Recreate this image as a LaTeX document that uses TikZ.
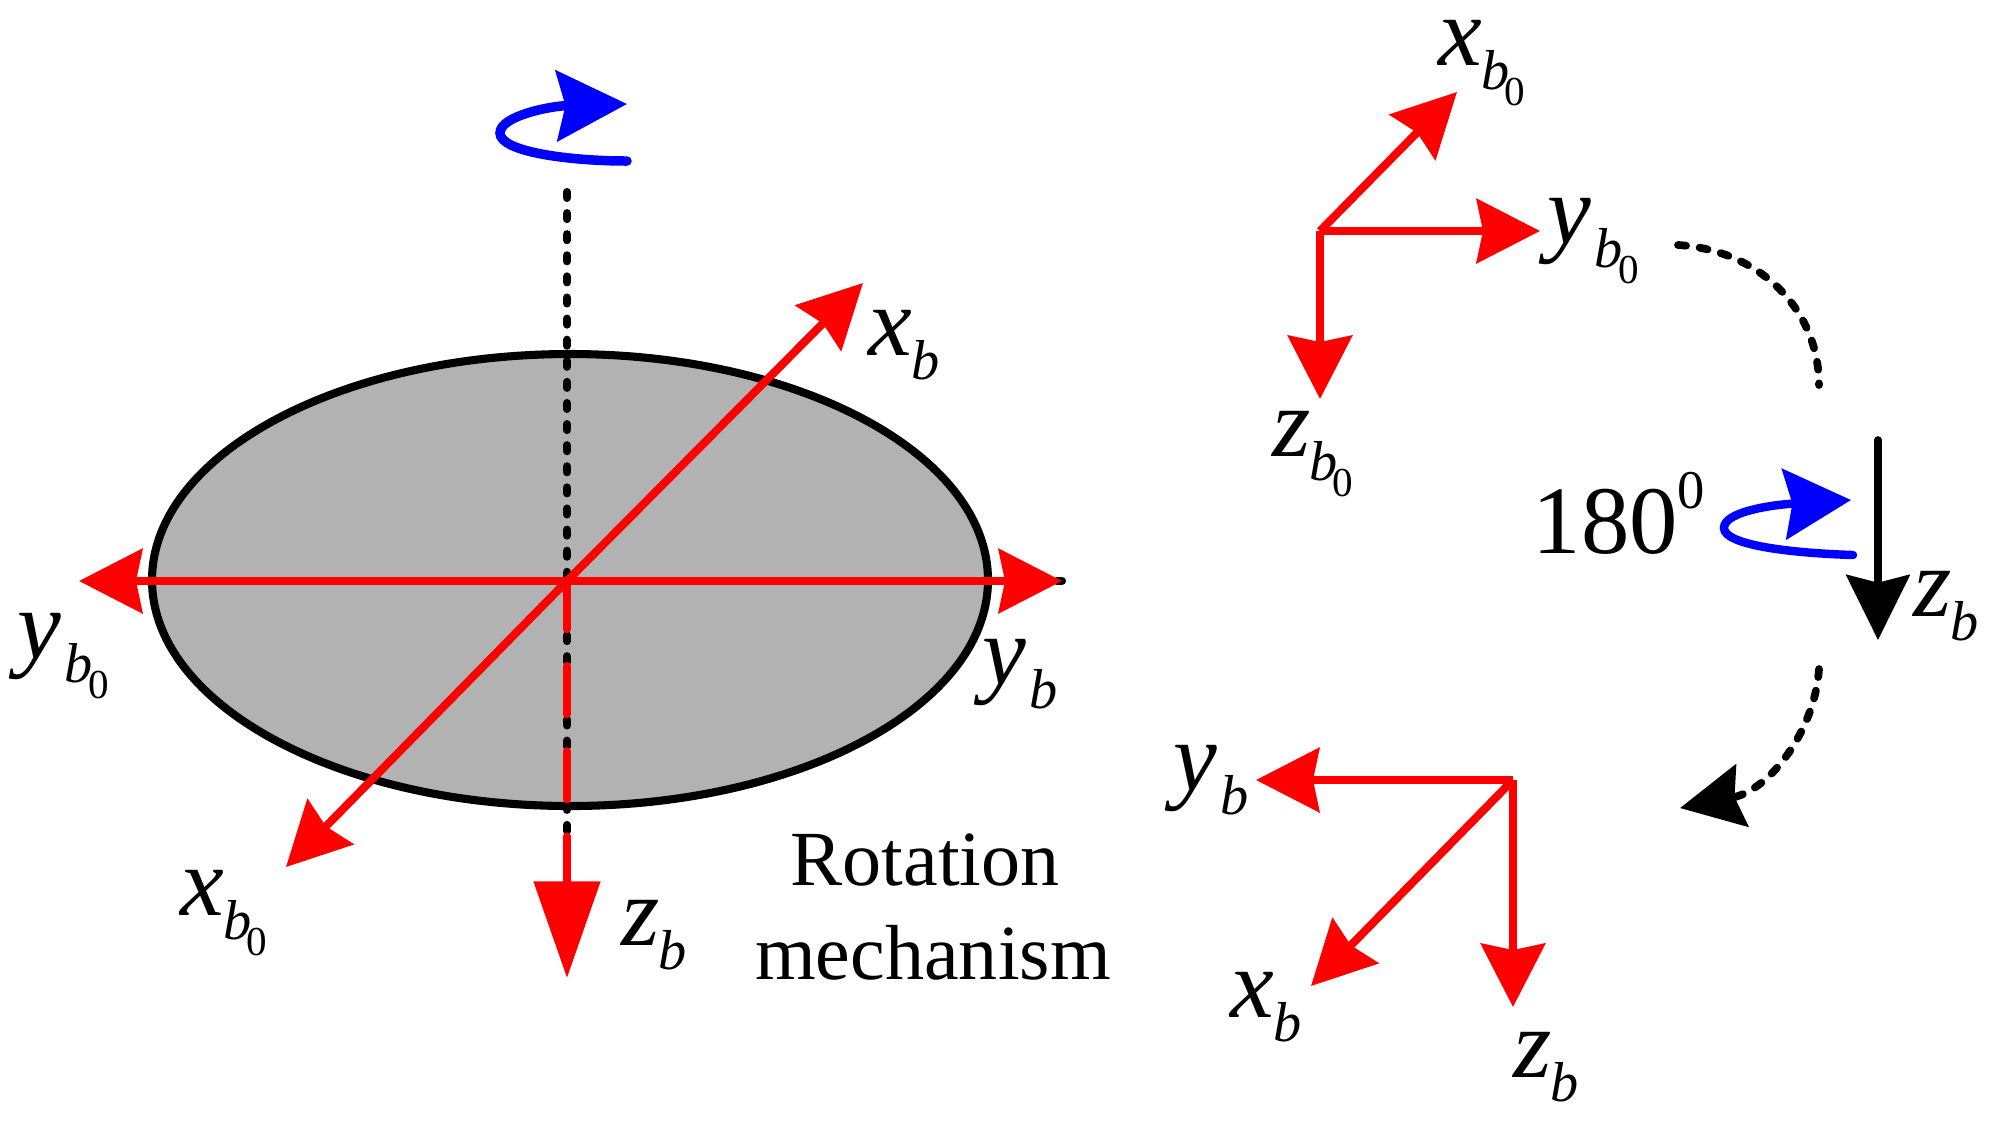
\documentclass[tikz,border=0pt]{standalone}
\usepackage{fontspec}
\setmainfont{Liberation Serif}
\usetikzlibrary{arrows.meta}
\definecolor{diskgray}{HTML}{B2B2B2}
\newcommand{\axisb}[2][-0.4pt]{{\fontsize{28}{28}\selectfont\itshape #2}\hspace{#1}\raisebox{-7pt}{\fontsize{16}{16}\selectfont\itshape b}}
\newcommand{\axisbzero}[2][-0.4pt]{\axisb[#1]{#2}\hspace{-1.4pt}\raisebox{-11.6pt}{\fontsize{11.7}{11.7}\selectfont 0}}
\tikzset{
  redaxis/.style={draw=red, line width=2.3pt, -{Stealth[length=18pt, width=18.2pt, inset=1.8pt, fill=red]}},
  spin/.style={draw=blue, line cap=round, -{Stealth[length=20pt, width=20pt, inset=2.5pt, fill=blue]}},
  dotline/.style={line width=2.3pt, line cap=round, dash pattern=on 1.7pt off 4.3pt},
  turnline/.style={line width=2.2pt, line cap=round, dash pattern=on 2.3pt off 3.9pt},
  lab/.style={inner sep=0pt, anchor=base west}
}
\begin{document}
\begin{tikzpicture}[x=0.01cm, y=-0.01cm]
  \useasboundingbox (0,0) rectangle (1999,1126);
  % disk with its axes
  \coordinate (O) at (567,581);
  \draw[fill=diskgray, line width=2.3pt] (570,580) ellipse (418 and 226);
  \coordinate (Ttop) at (567,192); \coordinate (Tbot) at (567,835);
  \draw[dotline] (Ttop) -- (Tbot);
  \coordinate (XB) at (863,283); \coordinate (XB0) at (286,867);
  \coordinate (YB) at (1062,581); \coordinate (YB0) at (79,581);
  \coordinate (ZB) at (567,978); \coordinate (YBm) at (1057,581);
  \draw[line width=2.3pt, line cap=round] (YBm) -- (YB);
  \draw[redaxis] (O) -- (XB);
  \draw[redaxis] (O) -- (XB0);
  \draw[redaxis] (O) -- (YB);
  \draw[redaxis] (O) -- (YB0);
  \draw[redaxis, line cap=round, dash pattern=on 13.7pt off 10.5pt, -{Stealth[length=27.5pt, width=18.5pt, inset=0pt, fill=red, sep=0pt]}] (O) -- (ZB);
  \node[lab] (xbA) at (868,355) {\axisb{x}};
  \node[lab] (ybzA) at (17,658) {\axisbzero[1pt]{y}};
  \node[lab] (ybA) at (982,684) {\axisb[1pt]{y}};
  \node[lab] (xbzA) at (180,915) {\axisbzero{x}};
  \node[lab] (zbA) at (621,945) {\axisb{z}};
  \node[inner sep=0pt, align=center, font=\fontsize{22.2}{26.7}\selectfont] (mech) at (933,907) {Rotation\hspace*{4.5pt}\\mechanism};
  % spin above the disk
  \coordinate (SA) at (627,161); \coordinate (SB) at (500,133); \coordinate (SC) at (627,104);
  \draw[spin, line width=2.7pt] (SA) .. controls (570,161) and (500,152) .. (SB) .. controls (500,116) and (550,106) .. (SC);
  % upper frame
  \coordinate (P) at (1320,231); \coordinate (PX) at (1457,92); \coordinate (PY) at (1540,231); \coordinate (PZ) at (1320,399);
  \draw[redaxis] (P) -- (PX);
  \draw[redaxis] (P) -- (PY);
  \draw[redaxis] (P) -- (PZ);
  \node[lab] (xbB) at (1438,65) {\axisbzero{x}};
  \node[lab] (ybB) at (1547,243) {\axisbzero[1pt]{y}};
  \node[lab] (zbB) at (1272,456) {\axisbzero{z}};
  % rotation in the middle
  \coordinate (DA) at (1678,245); \coordinate (DB) at (1819,385);
  \draw[turnline] (DA) .. controls (1760,250) and (1819,310) .. (DB);
  \coordinate (Zt) at (1878,440); \coordinate (Zh) at (1878,640);
  \draw[line width=2.2pt, line cap=round, -{Stealth[length=18.5pt, width=18pt, inset=2.2pt]}] (Zt) -- (Zh);
  \node[lab] (zbC) at (1913,616) {\axisb{z}};
  \node[lab] (deg) at (1532,553) {\fontsize{27.5}{27.5}\selectfont 180\raisebox{12.8pt}{\fontsize{15.5}{15.5}\selectfont 0}};
  \coordinate (RA) at (1853,555); \coordinate (RB) at (1724,528); \coordinate (RC) at (1851,500);
  \draw[spin, line width=2.4pt, -{Stealth[length=19pt, width=20pt, inset=2.3pt, fill=blue]}] (RA) .. controls (1790,553) and (1724,545) .. (RB) .. controls (1724,512) and (1770,505) .. (RC);
  \coordinate (EA) at (1819,669); \coordinate (EB) at (1680,808);
  \draw[turnline, -{Stealth[length=18pt, width=18pt, inset=2.2pt]}] (EA) .. controls (1815,730) and (1770,790) .. (EB);
  % lower frame
  \coordinate (Q) at (1513,780); \coordinate (QX) at (1311,986); \coordinate (QY) at (1256,780); \coordinate (QZ) at (1513,1007);
  \draw[redaxis] (Q) -- (QX);
  \draw[redaxis] (Q) -- (QY);
  \draw[redaxis] (Q) -- (QZ);
  \node[lab] (ybD) at (1173,790) {\axisb[1pt]{y}};
  \node[lab] (xbD) at (1230,1017) {\axisb{x}};
  \node[lab] (zbD) at (1513,1077) {\axisb{z}};
\end{tikzpicture}
\end{document}
